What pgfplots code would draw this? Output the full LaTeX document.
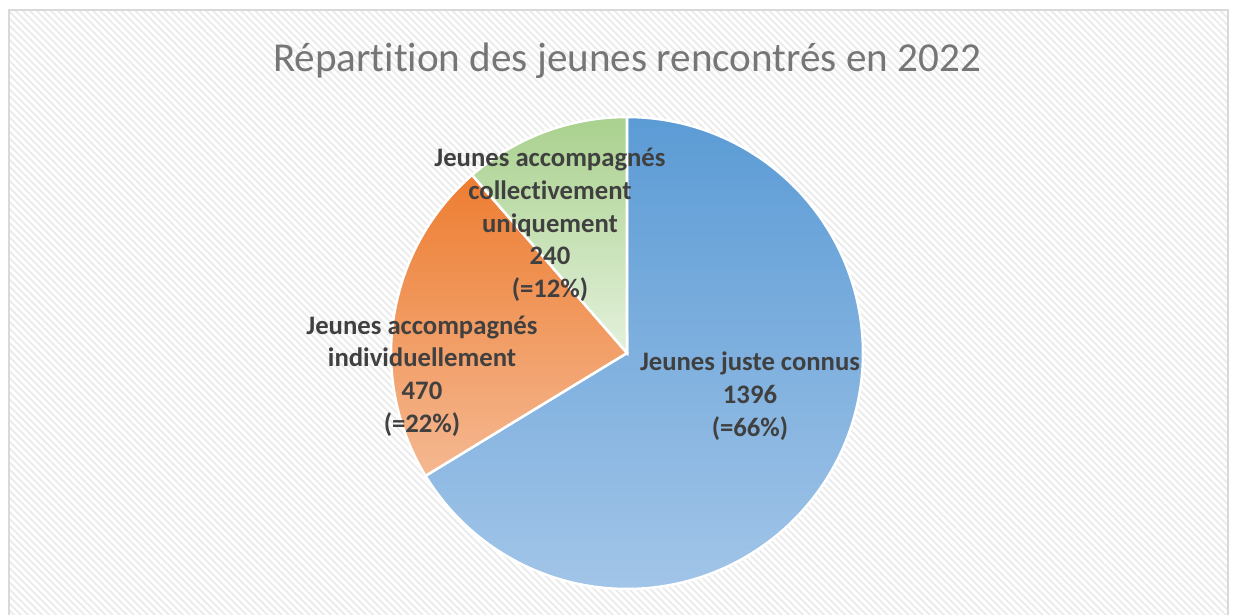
\documentclass[border=0pt]{standalone}
\usepackage{pgfplots}
\pgfplotsset{compat=1.18}
\usepackage{pgfplotstable}
\usepackage{fontspec}
\setmainfont[Ligatures=NoCommon]{Carlito}
\usetikzlibrary{patterns.meta}
\definecolor{titlegray}{HTML}{767676}
\definecolor{labelgray}{HTML}{404040}
\definecolor{blueTop}{HTML}{5B9BD5}
\definecolor{blueBot}{HTML}{A2C5E8}
\definecolor{orangeTop}{HTML}{ED7D31}
\definecolor{orangeBot}{HTML}{F5B891}
\definecolor{greenTop}{HTML}{A9D18E}
\definecolor{greenBot}{HTML}{E4F1DC}
\definecolor{stripe}{HTML}{EBEBEB}
\definecolor{framegray}{HTML}{D9D9D9}

\pgfplotstableread{
name value
juste 1396
indiv 470
coll 240
}\piedata

\begin{document}
\begin{tikzpicture}
\useasboundingbox (0bp,0bp) rectangle (1233bp,615bp);
\fill[white] (0bp,0bp) rectangle (1233bp,615bp);
\fill[pattern={Lines[angle=-45,distance=5pt,line width=1.8pt]},pattern color=stripe]
  (9bp,0bp) rectangle (1228bp,605bp);
\draw[framegray,line width=1.6bp] (9bp,-5bp) -- (9bp,605bp) -- (1228bp,605bp) -- (1228bp,-5bp);

\pgfplotstablegetelem{0}{value}\of\piedata \let\va\pgfplotsretval
\pgfplotstablegetelem{1}{value}\of\piedata \let\vb\pgfplotsretval
\pgfplotstablegetelem{2}{value}\of\piedata \let\vc\pgfplotsretval
\pgfmathsetmacro\tot{\va+\vb+\vc}
\pgfmathsetmacro\fa{\va/\tot}
\pgfmathsetmacro\fb{\vb/\tot}
\pgfmathsetmacro\fc{\vc/\tot}
\pgfmathsetmacro\aA{90-360*\fa}
\pgfmathsetmacro\aB{\aA-360*\fb}
\pgfmathsetmacro\aC{\aB-360*\fc}

\begin{axis}[
  at={(0bp,0bp)}, anchor=south west,
  width=1233bp, height=615bp, scale only axis,
  xmin=0, xmax=1233, ymin=0, ymax=615,
  hide axis, clip=false,
]
\addplot[draw=white, line width=2.5bp, top color=blueTop, bottom color=blueBot,
  domain=\aA:90, samples=200, variable=\t]
  ({627+236*cos(\t)}, {262+236*sin(\t)}) -- (axis cs:627,262) -- cycle;
\addplot[draw=white, line width=2.5bp, top color=orangeTop, bottom color=orangeBot,
  domain=\aB:\aA, samples=80, variable=\t]
  ({627+236*cos(\t)}, {262+236*sin(\t)}) -- (axis cs:627,262) -- cycle;
\addplot[draw=white, line width=2.5bp, top color=greenTop, bottom color=greenBot,
  domain=\aC:\aB, samples=50, variable=\t]
  ({627+236*cos(\t)}, {262+236*sin(\t)}) -- (axis cs:627,262) -- cycle;

\node[text=titlegray, font=\fontsize{41.3}{46}\selectfont] at (axis cs:627,554) {Répartition des jeunes rencontrés en 2022};

\node[text=labelgray, align=center, font=\fontsize{26.8}{32.8}\selectfont\bfseries] at (axis cs:750,219)
  {Jeunes juste connus\\1396\\(=66\%)};
\node[text=labelgray, align=center, font=\fontsize{26.8}{32.8}\selectfont\bfseries] at (axis cs:422,239)
  {Jeunes accompagnés\\individuellement\\470\\(=22\%)};
\node[text=labelgray, align=center, font=\fontsize{26.8}{32.8}\selectfont\bfseries] at (axis cs:550,390)
  {Jeunes accompagnés\\collectivement\\uniquement\\240\\(=12\%)};
\end{axis}
\end{tikzpicture}
\end{document}
